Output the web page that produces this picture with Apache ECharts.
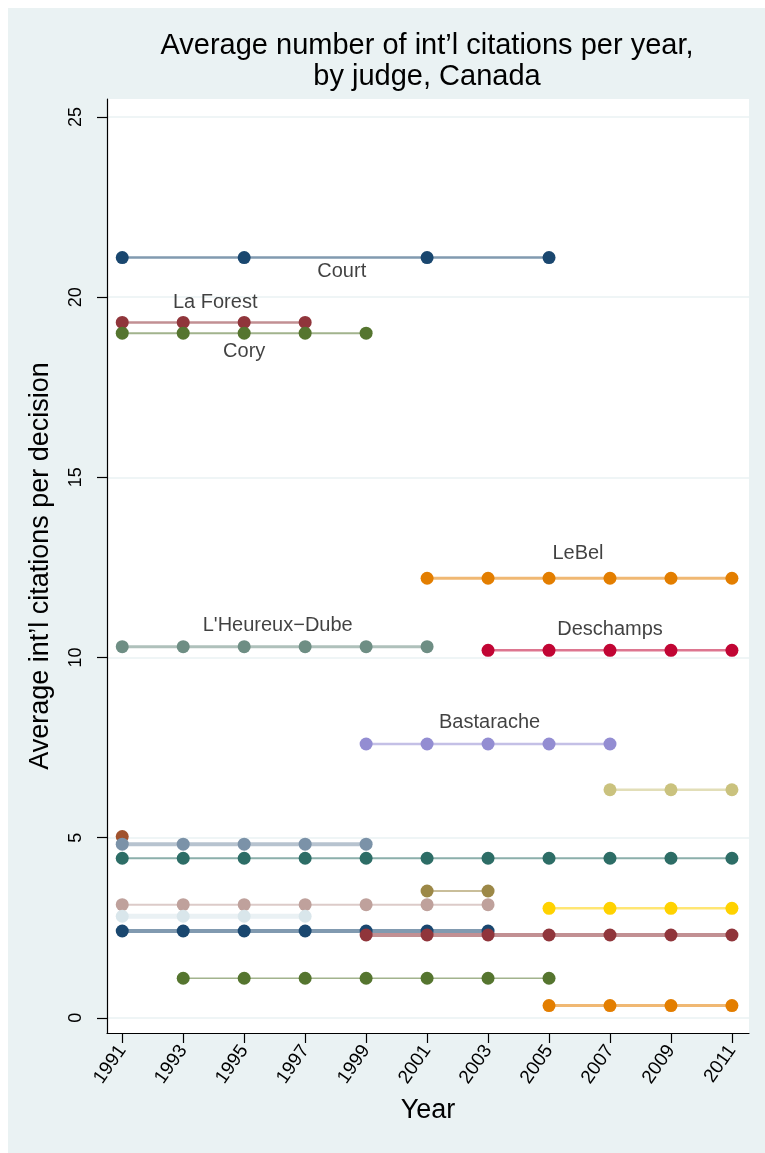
<!DOCTYPE html>
<html>
<head>
<meta charset="utf-8">
<script src="https://cdn.jsdelivr.net/npm/echarts@6/dist/echarts.min.js"></script>
<style>
html,body{margin:0;padding:0;background:#fff;width:765px;height:1153px;overflow:hidden;}
#chart{position:absolute;left:8px;top:8px;width:757px;height:1145px;}
</style>
</head>
<body>
<div id="chart"></div>
<script>
// ---- data ----
const years = [1991, 1993, 1995, 1997, 1999, 2001, 2003, 2005, 2007, 2009, 2011];
const yTicks = [0, 5, 10, 15, 20, 25];

const court        = [21.1, null, 21.1, null, null, 21.1, null, 21.1, null, null, null];
const laForest     = [19.3, 19.3, 19.3, 19.3, null, null, null, null, null, null, null];
const cory         = [19.0, 19.0, 19.0, 19.0, 19.0, null, null, null, null, null, null];
const lebel        = [null, null, null, null, null, 12.2, 12.2, 12.2, 12.2, 12.2, 12.2];
const lheureuxDube = [10.3, 10.3, 10.3, 10.3, 10.3, 10.3, null, null, null, null, null];
const deschamps    = [null, null, null, null, null, null, 10.2, 10.2, 10.2, 10.2, 10.2];
const bastarache   = [null, null, null, null, 7.6, 7.6, 7.6, 7.6, 7.6, null, null];
const judgeKhaki   = [null, null, null, null, null, null, null, null, 6.33, 6.33, 6.33];
const judgeSienna  = [5.03, null, null, null, null, null, null, null, null, null, null];
const judgeEmidblue= [4.82, 4.82, 4.82, 4.82, 4.82, null, null, null, null, null, null];
const judgeEmerald = [4.43, 4.43, 4.43, 4.43, 4.43, 4.43, 4.43, 4.43, 4.43, 4.43, 4.43];
const judgeBrown   = [null, null, null, null, null, 3.52, 3.52, null, null, null, null];
const judgeErose   = [3.14, 3.14, 3.14, 3.14, 3.14, 3.14, 3.14, null, null, null, null];
const judgeGold    = [null, null, null, null, null, null, null, 3.04, 3.04, 3.04, 3.04];
const judgeBluGray = [2.82, 2.82, 2.82, 2.82, null, null, null, null, null, null, null];
const judgeNavy2   = [2.41, 2.41, 2.41, 2.41, 2.41, 2.41, 2.41, null, null, null, null];
const judgeMaroon2 = [null, null, null, null, 2.30, 2.30, 2.30, 2.30, 2.30, 2.30, 2.30];
const judgeForest2 = [null, 1.10, 1.10, 1.10, 1.10, 1.10, 1.10, 1.10, null, null, null];
const judgeOrange2 = [null, null, null, null, null, null, null, 0.34, 0.34, 0.34, 0.34];

const labelNames  = ['Court', 'La Forest', 'Cory', 'LeBel', "L'Heureux\u2212Dube", 'Deschamps', 'Bastarache'];
const labelYears  = [1998.2, 1994.05, 1995.0, 2005.95, 1996.1, 2007.0, 2003.05];
const labelValues = [20.72, 19.84, 18.48, 12.9, 10.88, 10.79, 8.21];

// ---- styles ----
const seriesList = [
  {vals: court,         color: '#1a476f', w: 2.5},
  {vals: laForest,      color: '#90353b', w: 2.5},
  {vals: cory,          color: '#55752f', w: 2},
  {vals: lebel,         color: '#e37e00', w: 3},
  {vals: lheureuxDube,  color: '#6e8e84', w: 3},
  {vals: deschamps,     color: '#c10534', w: 2.5},
  {vals: bastarache,    color: '#938dd2', w: 2.5},
  {vals: judgeKhaki,    color: '#cac27e', w: 2.5},
  {vals: judgeSienna,   color: '#a0522d', w: 2.5},
  {vals: judgeEmidblue, color: '#7b92a8', w: 4},
  {vals: judgeEmerald,  color: '#2d6d66', w: 2},
  {vals: judgeBrown,    color: '#9c8847', w: 2},
  {vals: judgeErose,    color: '#bfa19c', w: 2},
  {vals: judgeGold,     color: '#ffd200', w: 2.5},
  {vals: judgeBluGray,  color: '#d9e6eb', w: 5},
  {vals: judgeNavy2,    color: '#1a476f', w: 4},
  {vals: judgeMaroon2,  color: '#90353b', w: 4},
  {vals: judgeForest2,  color: '#55752f', w: 1.5},
  {vals: judgeOrange2,  color: '#e37e00', w: 3}
];

const FONT = '"Liberation Sans", Arial, Helvetica, sans-serif';

const series = seriesList.map(function (s) {
  const data = [];
  years.forEach(function (y, i) { if (s.vals[i] != null) data.push([y, s.vals[i]]); });
  return {
    type: 'line',
    data: data,
    connectNulls: true,
    symbol: 'circle',
    symbolSize: 13,
    showSymbol: true,
    animation: false,
    silent: true,
    itemStyle: {color: s.color, opacity: 1},
    lineStyle: {color: s.color, width: s.w, opacity: 0.55},
    z: 2
  };
});

series.push({
  type: 'scatter',
  symbolSize: 0,
  animation: false,
  silent: true,
  data: labelNames.map(function (n, i) { return {name: n, value: [labelYears[i], labelValues[i]]}; }),
  label: {
    show: true,
    position: 'inside',
    formatter: '{b}',
    color: '#111',
    fontSize: 20,
    fontFamily: FONT
  },
  z: 5
});

const chart = echarts.init(document.getElementById('chart'), null, {renderer: 'canvas'});
chart.setOption({
  backgroundColor: '#eaf2f3',
  animation: false,
  graphic: [
    {type: 'text', x: 419, y: 38, style: {text: 'Average number of int\u2019l citations per year,', font: '29px ' + FONT, fill: '#000', textAlign: 'center', textVerticalAlign: 'middle'}},
    {type: 'text', x: 419, y: 69, style: {text: 'by judge, Canada', font: '29px ' + FONT, fill: '#000', textAlign: 'center', textVerticalAlign: 'middle'}}
  ],
  grid: {
    left: 99, top: 91, right: 16, bottom: 120,
    show: true, backgroundColor: '#ffffff', borderWidth: 0,
    containLabel: false, outerBoundsMode: 'none'
  },
  xAxis: {
    type: 'value',
    min: 1990.5, max: 2011.56,
    name: 'Year',
    nameLocation: 'middle',
    nameGap: 64,
    nameTextStyle: {fontSize: 27, color: '#000', fontFamily: FONT},
    axisLine: {show: true, onZero: false, lineStyle: {color: '#000', width: 1.2}},
    axisTick: {show: true, length: 10, customValues: years, lineStyle: {color: '#000', width: 1.2}},
    axisLabel: {customValues: years, rotate: 55, margin: 14, fontSize: 19, color: '#000', fontFamily: FONT, formatter: function (v) { return String(v); }},
    splitLine: {show: false}
  },
  yAxis: {
    type: 'value',
    min: -0.42, max: 25.5,
    name: 'Average int\u2019l citations per decision',
    nameLocation: 'middle',
    nameGap: 53,
    nameRotate: 90,
    nameTextStyle: {fontSize: 27, color: '#000', fontFamily: FONT},
    axisLine: {show: true, onZero: false, lineStyle: {color: '#000', width: 1.2}},
    axisTick: {show: true, length: 10, customValues: yTicks, lineStyle: {color: '#000', width: 1.2}},
    axisLabel: {customValues: yTicks, rotate: 90, margin: 22, fontSize: 18, color: '#000', fontFamily: FONT},
    splitLine: {show: true, lineStyle: {color: '#eaf2f3', width: 1.5}}
  },
  series: series
});
</script>
</body>
</html>
